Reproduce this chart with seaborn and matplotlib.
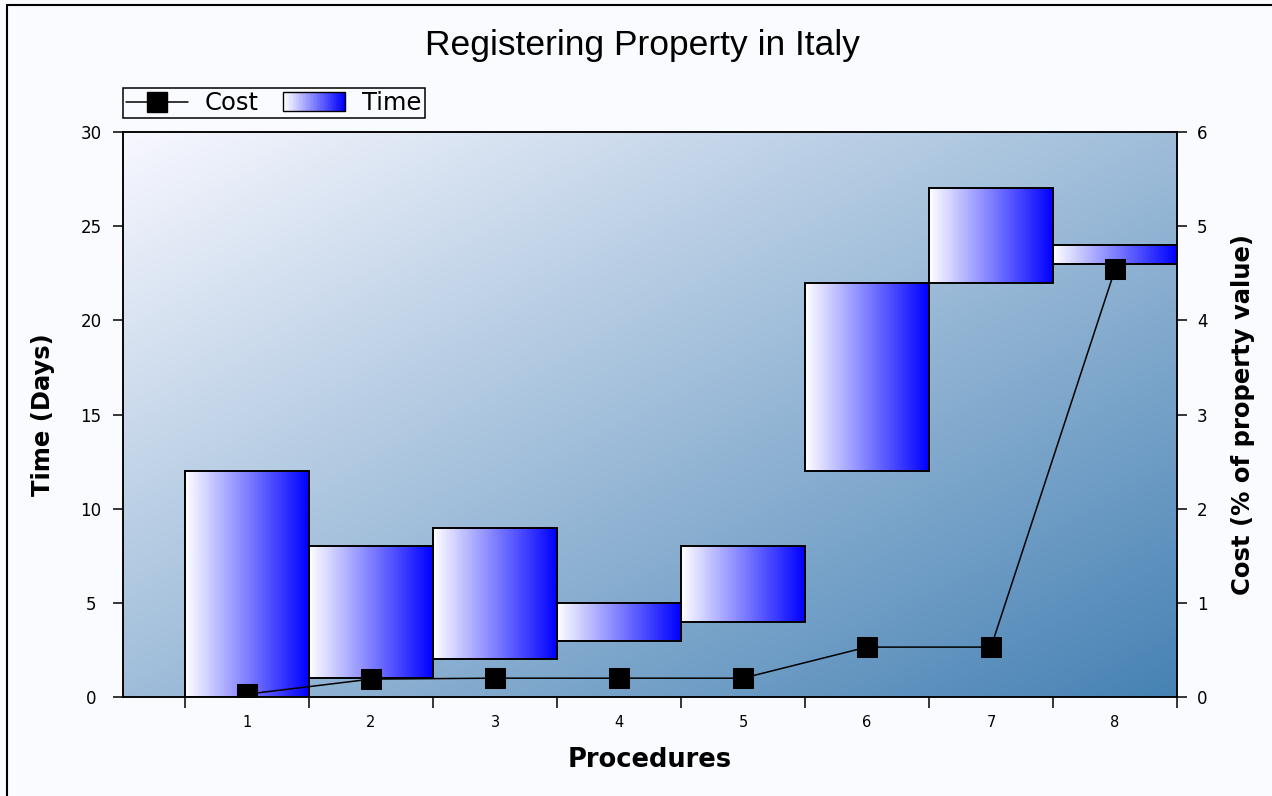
import numpy as np
import pandas as pd
import matplotlib
matplotlib.use("Agg")
import matplotlib.pyplot as plt
from matplotlib.colors import LinearSegmentedColormap
from matplotlib.lines import Line2D
from matplotlib.patches import Rectangle
from matplotlib.legend_handler import HandlerBase
import seaborn as sns

# ---- data -------------------------------------------------------------
procedures = [1, 2, 3, 4, 5, 6, 7, 8]
time_start = [0, 1, 2, 3, 4, 12, 22, 23]      # days
time_end = [12, 8, 9, 5, 8, 22, 27, 24]       # days
cost_pct = [0.03, 0.19, 0.2, 0.2, 0.2, 0.53, 0.53, 4.54]  # % of property value
time_ticks = [0, 5, 10, 15, 20, 25, 30]
cost_ticks = [0, 1, 2, 3, 4, 5, 6]

title = "Registering Property in Italy"

sns.set_style("white")
plt.rcParams["font.family"] = ["DejaVu Sans"]
plt.rcParams["text.color"] = "black"
plt.rcParams["axes.labelcolor"] = "black"
plt.rcParams["xtick.color"] = "black"
plt.rcParams["ytick.color"] = "black"

W, H, DPI = 1272, 796, 100
fig = plt.figure(figsize=(W / DPI, H / DPI), dpi=DPI, facecolor="#fafbfe")

L, R, T, B = 123, 1177, 132, 697
ax = fig.add_axes([L / W, 1 - B / H, (R - L) / W, (B - T) / H])

xmin, xmax = 0, len(procedures) + 0.5
ymin, ymax = time_ticks[0], time_ticks[-1]

# diagonal background wash: near white top-left to steel blue bottom-right
c0 = np.array([248, 248, 255]) / 255
c1 = np.array([70, 130, 180]) / 255
gh, gw = 300, 560
jj = np.linspace(0, 1, gw)[None, :]
ii = np.linspace(0, 1, gh)[:, None]
t = (jj + ii) / 2
bg = c0[None, None, :] * (1 - t[..., None]) + c1[None, None, :] * t[..., None]
ax.imshow(bg, extent=(xmin, xmax, ymin, ymax), origin="upper",
          aspect="auto", zorder=0, interpolation="bilinear")

# floating time bars with a white-to-blue horizontal gradient
bar_cmap = LinearSegmentedColormap.from_list("wb", ["#ffffff", "#0000ff"])
grad = np.linspace(0, 1, 256)[None, :]
for p, s, e in zip(procedures, time_start, time_end):
    ax.imshow(grad, cmap=bar_cmap, extent=(p - 0.5, p + 0.5, s, e),
              aspect="auto", zorder=2, interpolation="bilinear")
ax.bar(procedures, np.array(time_end) - np.array(time_start),
       bottom=time_start, width=1.0, fill=False, edgecolor="black",
       linewidth=1.4, zorder=3)

ax.set_xlim(xmin, xmax)
ax.set_ylim(ymin, ymax)

# x axis: boundary ticks, labels at procedure centres
ax.set_xticks(np.arange(0.5, len(procedures) + 1, 1.0))
ax.set_xticklabels([])
ax.set_xticks(procedures, minor=True)
ax.set_xticklabels([str(p) for p in procedures], minor=True)
ax.tick_params(axis="x", which="major", direction="out", length=8, width=1.1,
               bottom=True)
ax.tick_params(axis="x", which="minor", length=0, pad=13, labelsize=10.5,
               bottom=True)

ax.set_yticks(time_ticks)
ax.set_yticklabels([str(v) for v in time_ticks], ha="center")
ax.tick_params(axis="y", direction="out", length=7.5, width=1.1, pad=15.5,
               labelsize=12, left=True)

for sp in ax.spines.values():
    sp.set_color("black")
    sp.set_linewidth(1.1)
    sp.set_visible(True)

ax.set_xlabel("Procedures", fontsize=18.5, fontweight="bold")
ax.xaxis.set_label_coords(0.5, -0.111)
ax.xaxis.label.set_va("center")
ax.set_ylabel("Time (Days)", fontsize=17.5, fontweight="bold")
ax.yaxis.set_label_coords((43 - L) / (R - L), 0.5)
ax.yaxis.label.set_va("center")

# cost line on the secondary axis
ax2 = ax.twinx()
cost_df = pd.DataFrame({"procedure": procedures, "cost": cost_pct})
sns.lineplot(data=cost_df, x="procedure", y="cost", ax=ax2, color="black",
             linewidth=1.1, marker="s", markersize=14, markeredgecolor="black",
             markerfacecolor="black", legend=False, zorder=5)
ax2.set_ylim(cost_ticks[0], cost_ticks[-1])
ax2.set_yticks(cost_ticks)
ax2.tick_params(axis="y", direction="out", length=7.5, width=1.1, pad=7,
                labelsize=12, right=True)
ax2.set_ylabel("Cost (% of property value)", fontsize=17.5, fontweight="bold",
               rotation=90)
ax2.yaxis.set_label_coords((1243 - L) / (R - L), 0.5)
ax2.yaxis.label.set_va("center")
for sp in ax2.spines.values():
    sp.set_color("black")
    sp.set_linewidth(1.1)
    sp.set_visible(True)
ax2.set_xlim(xmin, xmax)

fig.text(642 / W, 1 - 45 / H, title, ha="center", va="center",
         fontsize=25.5, color="black", family=["Liberation Sans", "DejaVu Sans"])


# legend with a gradient swatch for the time bars
class GradientSwatch(HandlerBase):
    def create_artists(self, legend, orig_handle, xdescent, ydescent,
                       width, height, fontsize, trans):
        n = 40
        h = height * 1.1
        y0 = -ydescent - (h - height) / 2
        arts = []
        for k in range(n):
            arts.append(Rectangle((-xdescent + width * k / n, y0), width / n + 0.3, h,
                                  facecolor=bar_cmap(k / (n - 1)), edgecolor="none",
                                  transform=trans))
        arts.append(Rectangle((-xdescent, y0), width, h, facecolor="none",
                              edgecolor="black", linewidth=1.0, transform=trans))
        return arts


cost_handle = Line2D([], [], color="black", linewidth=1.1, marker="s",
                     markersize=14, markerfacecolor="black")
time_handle = Rectangle((0, 0), 1, 1)
leg = fig.legend([cost_handle, time_handle], ["Cost", "Time"],
                 handler_map={Rectangle: GradientSwatch()},
                 loc="lower left", bbox_to_anchor=(L / W, 1 - 118 / H),
                 bbox_transform=fig.transFigure, ncol=2, fontsize=17.5,
                 frameon=True, fancybox=False, shadow=False, borderaxespad=0,
                 handlelength=2.55, handletextpad=0.7, columnspacing=1.0,
                 borderpad=0.12, labelcolor="black")
leg.get_frame().set_edgecolor("black")
leg.get_frame().set_linewidth(1.1)
leg.get_frame().set_facecolor("#fafbfe")
leg.get_frame().set_alpha(1)

# outer frame lines along the left and top edges
fig.add_artist(Line2D([7 / W, 7 / W], [0, 1 - 5 / H], color="black",
                      linewidth=1.5, transform=fig.transFigure))
fig.add_artist(Line2D([7 / W, 1], [1 - 5 / H, 1 - 5 / H], color="black",
                      linewidth=1.5, transform=fig.transFigure))

fig.savefig("out.png", dpi=DPI, facecolor=fig.get_facecolor())
